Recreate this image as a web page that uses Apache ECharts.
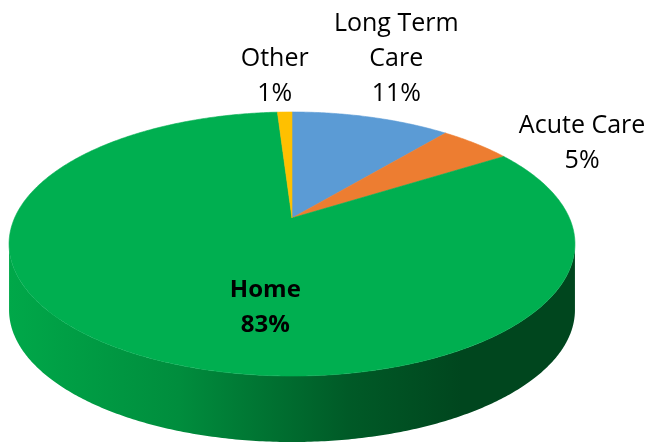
<!DOCTYPE html>
<html>
<head>
<meta charset="utf-8">
<script src="https://cdn.jsdelivr.net/npm/echarts@6/dist/echarts.min.js"></script>
<style>
  html, body { margin: 0; padding: 0; background: #fff; }
  #chart { width: 650px; height: 442px; }
</style>
</head>
<body>
<div id="chart"></div>
<script>
// data (slices go clockwise from 12 o'clock, as in the Excel chart)
const categories = ['Long Term\nCare', 'Acute Care', 'Home', 'Other'];
const values = [11, 5, 83, 1];
const percentLabels = ['11%', '5%', '83%', '1%'];

// styles
const topColors = ['#5B9BD5', '#ED7D31', '#00AF50', '#FFC000'];
const FONT = '"Open Sans", "Noto Sans", sans-serif';

// 3d look: perspective projection of a tilted disc
const CX = 292, CY = 218;      // pie centre on screen
const RX = 277.4, RY = 126.9;  // radii before perspective
const PERSP = 0.197;           // perspective strength
const DEPTH = 66;              // wall height

// label placement: anchor on radius r at mid angle, then shifted
const labelLayout = [
  { r: 1, dx: 25, dy: -58, bold: false },
  { r: 1, dx: 106, dy: 0, bold: false },
  { r: 0.55, dx: 50, dy: 21, bold: true },
  { r: 1, dx: -10, dy: -36, bold: false }
];

const total = values.reduce((s, v) => s + v, 0);
const starts = [];
let acc = 0;
values.forEach(v => { starts.push(acc / total * Math.PI * 2); acc += v; });

function sliceAngles(i) {
  return [starts[i], starts[i] + values[i] / total * Math.PI * 2];
}

function project(theta, r) {
  const u = r * Math.sin(theta);
  const v = -r * Math.cos(theta);
  const w = 1 - PERSP * v;
  return [CX + RX * u / w, CY + RY * v / w];
}

function arc(a0, a1) {
  const pts = [];
  const n = Math.max(2, Math.ceil((a1 - a0) / 0.01));
  for (let k = 0; k <= n; k++) pts.push(project(a0 + (a1 - a0) * k / n, 1));
  return pts;
}

// the front part of the wall is the only one you can see
const frontFrom = Math.acos(-PERSP);
const frontTo = Math.PI * 2 - frontFrom;

const wallFill = new echarts.graphic.LinearGradient(CX - RX * 1.02, 0, CX + RX * 1.02, 0, [
  { offset: 0, color: '#00A849' },
  { offset: 0.3, color: '#008D3D' },
  { offset: 0.6, color: '#005A27' },
  { offset: 0.8, color: '#00461E' },
  { offset: 1, color: '#00461E' }
], true);

function renderWall(params, api) {
  const i = params.dataIndex;
  const [s0, s1] = sliceAngles(i);
  const a0 = Math.max(s0, frontFrom);
  const a1 = Math.min(s1, frontTo);
  if (a1 <= a0) return null;
  const topArc = arc(a0, a1);
  const bottomArc = topArc.map(p => [p[0], p[1] + DEPTH]).reverse();
  return {
    type: 'polygon',
    shape: { points: topArc.concat(bottomArc) },
    style: { fill: wallFill, stroke: null }
  };
}

function renderTop(params, api) {
  const i = params.dataIndex;
  const [a0, a1] = sliceAngles(i);
  const pts = [[CX, CY]].concat(arc(a0, a1));
  const lay = labelLayout[i];
  const anchor = project((a0 + a1) / 2, lay.r);
  return {
    type: 'group',
    children: [
      {
        type: 'polygon',
        shape: { points: pts },
        style: { fill: topColors[i], stroke: topColors[i], lineWidth: 0.6 }
      },
      {
        type: 'text',
        x: anchor[0] + lay.dx,
        y: anchor[1] + lay.dy,
        style: {
          text: categories[i] + '\n' + percentLabels[i],
          fill: '#000',
          font: (lay.bold ? 'bold 24px ' : '25px ') + FONT,
          lineHeight: 35,
          align: 'center',
          verticalAlign: 'middle'
        }
      }
    ]
  };
}

const chart = echarts.init(document.getElementById('chart'));
const seriesData = values.map((v, i) => ({ name: categories[i], value: v }));

chart.setOption({
  backgroundColor: '#fff',
  animation: false,
  series: [
    {
      type: 'custom',
      coordinateSystem: 'none',
      renderItem: renderWall,
      data: seriesData,
      z: 1,
      silent: true
    },
    {
      type: 'custom',
      coordinateSystem: 'none',
      renderItem: renderTop,
      data: seriesData,
      z: 2,
      silent: true
    }
  ]
});
</script>
</body>
</html>
